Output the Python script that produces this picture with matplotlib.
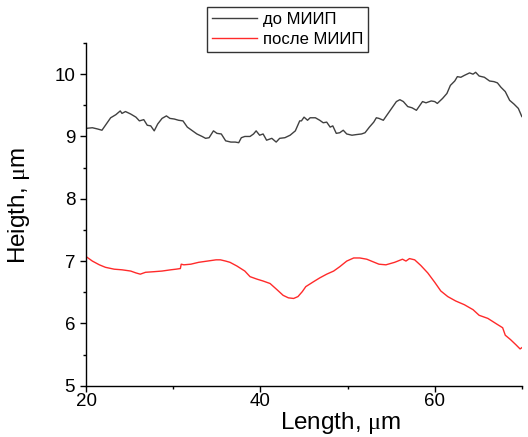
import matplotlib
matplotlib.use("Agg")
import matplotlib.pyplot as plt
from matplotlib.ticker import MultipleLocator

# profile before treatment (black)
x_before = [20.0, 20.7, 21.3, 21.8, 22.2, 22.8, 23.4, 23.9, 24.1, 24.5, 25.1, 25.7,
            26.1, 26.6, 27.0, 27.4, 27.8, 28.2, 28.7, 29.2, 29.6, 30.1, 30.6, 31.1,
            31.6, 32.2, 32.7, 33.3, 33.7, 34.1, 34.6, 35.0, 35.5, 36.0, 36.6, 37.1,
            37.5, 37.8, 38.2, 38.8, 39.2, 39.5, 39.9, 40.3, 40.7, 41.3, 41.8, 42.2,
            42.8, 43.4, 44.0, 44.5, 44.7, 45.0, 45.4, 45.7, 46.3, 46.8, 47.2, 47.6,
            48.0, 48.3, 48.7, 49.1, 49.5, 49.9, 50.5, 51.0, 51.6, 52.0, 52.5, 53.0,
            53.3, 53.6, 54.1, 54.6, 55.2, 55.6, 56.0, 56.4, 56.9, 57.4, 57.9, 58.2,
            58.6, 59.0, 59.6, 60.0, 60.3, 60.9, 61.4, 61.8, 62.3, 62.6, 63.0, 63.4,
            64.0, 64.4, 64.7, 65.1, 65.7, 66.3, 66.8, 67.2, 67.6, 68.1, 68.6, 69.1,
            69.6, 70.0]
y_before = [9.13, 9.14, 9.12, 9.10, 9.18, 9.30, 9.35, 9.41, 9.37, 9.40, 9.36, 9.31,
            9.25, 9.27, 9.18, 9.17, 9.09, 9.20, 9.29, 9.33, 9.29, 9.28, 9.26, 9.25,
            9.15, 9.09, 9.04, 9.00, 8.97, 8.98, 9.09, 9.05, 9.04, 8.93, 8.91, 8.91,
            8.90, 8.98, 9.00, 9.00, 9.04, 9.09, 9.02, 9.04, 8.94, 8.97, 8.91, 8.97,
            8.98, 9.02, 9.09, 9.25, 9.25, 9.31, 9.26, 9.30, 9.30, 9.26, 9.22, 9.23,
            9.15, 9.17, 9.05, 9.06, 9.10, 9.04, 9.02, 9.03, 9.04, 9.06, 9.15, 9.23,
            9.30, 9.29, 9.26, 9.36, 9.48, 9.56, 9.59, 9.56, 9.48, 9.46, 9.42, 9.48,
            9.56, 9.54, 9.57, 9.56, 9.53, 9.61, 9.69, 9.82, 9.89, 9.96, 9.95, 9.98,
            10.02, 10.00, 10.03, 9.97, 9.95, 9.89, 9.88, 9.86, 9.79, 9.72, 9.58, 9.52,
            9.45, 9.32]

# profile after treatment (red)
x_after = [20.0, 20.7, 21.5, 22.2, 23.2, 24.1, 25.1, 25.7, 26.2, 26.8, 27.8, 28.7,
           29.7, 30.3, 30.8, 30.9, 31.2, 32.0, 32.9, 33.9, 34.9, 35.4, 36.0, 36.5,
           37.3, 38.2, 38.8, 39.6, 40.3, 41.1, 41.9, 42.6, 43.2, 43.8, 44.3, 44.8,
           45.2, 46.1, 46.8, 47.6, 48.4, 49.1, 49.9, 50.7, 51.4, 52.2, 52.9, 53.6,
           54.4, 55.4, 56.3, 56.7, 57.1, 57.7, 58.4, 59.2, 60.0, 60.7, 61.5, 62.4,
           63.4, 64.4, 65.1, 66.1, 67.0, 67.8, 68.1, 68.7, 69.3, 69.8, 70.0]
y_after = [7.07, 7.00, 6.94, 6.90, 6.87, 6.86, 6.84, 6.81, 6.79, 6.82, 6.83, 6.84,
           6.86, 6.87, 6.88, 6.95, 6.94, 6.95, 6.98, 7.00, 7.02, 7.02, 7.00, 6.98,
           6.92, 6.84, 6.75, 6.71, 6.68, 6.64, 6.54, 6.45, 6.41, 6.40, 6.43, 6.51,
           6.59, 6.67, 6.73, 6.79, 6.84, 6.91, 7.00, 7.05, 7.05, 7.03, 6.99, 6.95,
           6.94, 6.98, 7.03, 7.00, 7.04, 7.02, 6.93, 6.81, 6.66, 6.52, 6.43, 6.36,
           6.30, 6.22, 6.13, 6.08, 6.00, 5.93, 5.81, 5.74, 5.66, 5.59, 5.61]

plt.rcParams['font.family'] = ['Liberation Sans', 'DejaVu Sans']
plt.rcParams['mathtext.fontset'] = 'custom'
plt.rcParams['mathtext.rm'] = 'Liberation Serif'

fig = plt.figure(figsize=(5.28, 4.37), dpi=100)
ax = fig.add_axes([0.1634, 0.1174, 0.8249, 0.7842])

ax.plot(x_before, y_before, color='#404040', lw=1.0, label='до МИИП')
ax.plot(x_after, y_after, color='#ff2a2a', lw=1.0, label='после МИИП')

ax.set_xlim(20, 70)
ax.set_ylim(5, 10.5)
ax.xaxis.set_major_locator(MultipleLocator(20))
ax.xaxis.set_minor_locator(MultipleLocator(10))
ax.yaxis.set_major_locator(MultipleLocator(1))
ax.yaxis.set_minor_locator(MultipleLocator(0.5))
ax.spines['top'].set_visible(False)
ax.spines['right'].set_visible(False)
for s in ['left', 'bottom']:
    ax.spines[s].set_linewidth(1.0)
ax.tick_params(which='major', direction='out', length=4.5, width=1.0, labelsize=13.5)
ax.tick_params(which='minor', direction='out', length=2.5, width=1.0)
ax.tick_params(axis='x', pad=1)

ax.set_xlabel(r'Length, $\mathrm{\mu}$m', fontsize=17.5)
ax.xaxis.set_label_coords(0.583, -0.072)
ax.xaxis.label.set_va('top')
ax.set_ylabel(r'Heigth, $\mathrm{\mu}$m', fontsize=17.5)
ax.yaxis.set_label_coords(-0.155, 0.527)
ax.yaxis.label.set_va('center')

leg = fig.legend(loc='upper left', bbox_to_anchor=(0.392, 0.984), fontsize=12,
                 frameon=True, fancybox=False, handlelength=2.7, handletextpad=0.35,
                 labelspacing=0.3, borderpad=0.3, borderaxespad=0)
leg.get_frame().set_edgecolor('black')
leg.get_frame().set_linewidth(1.0)

fig.savefig('out.png', dpi=100)
